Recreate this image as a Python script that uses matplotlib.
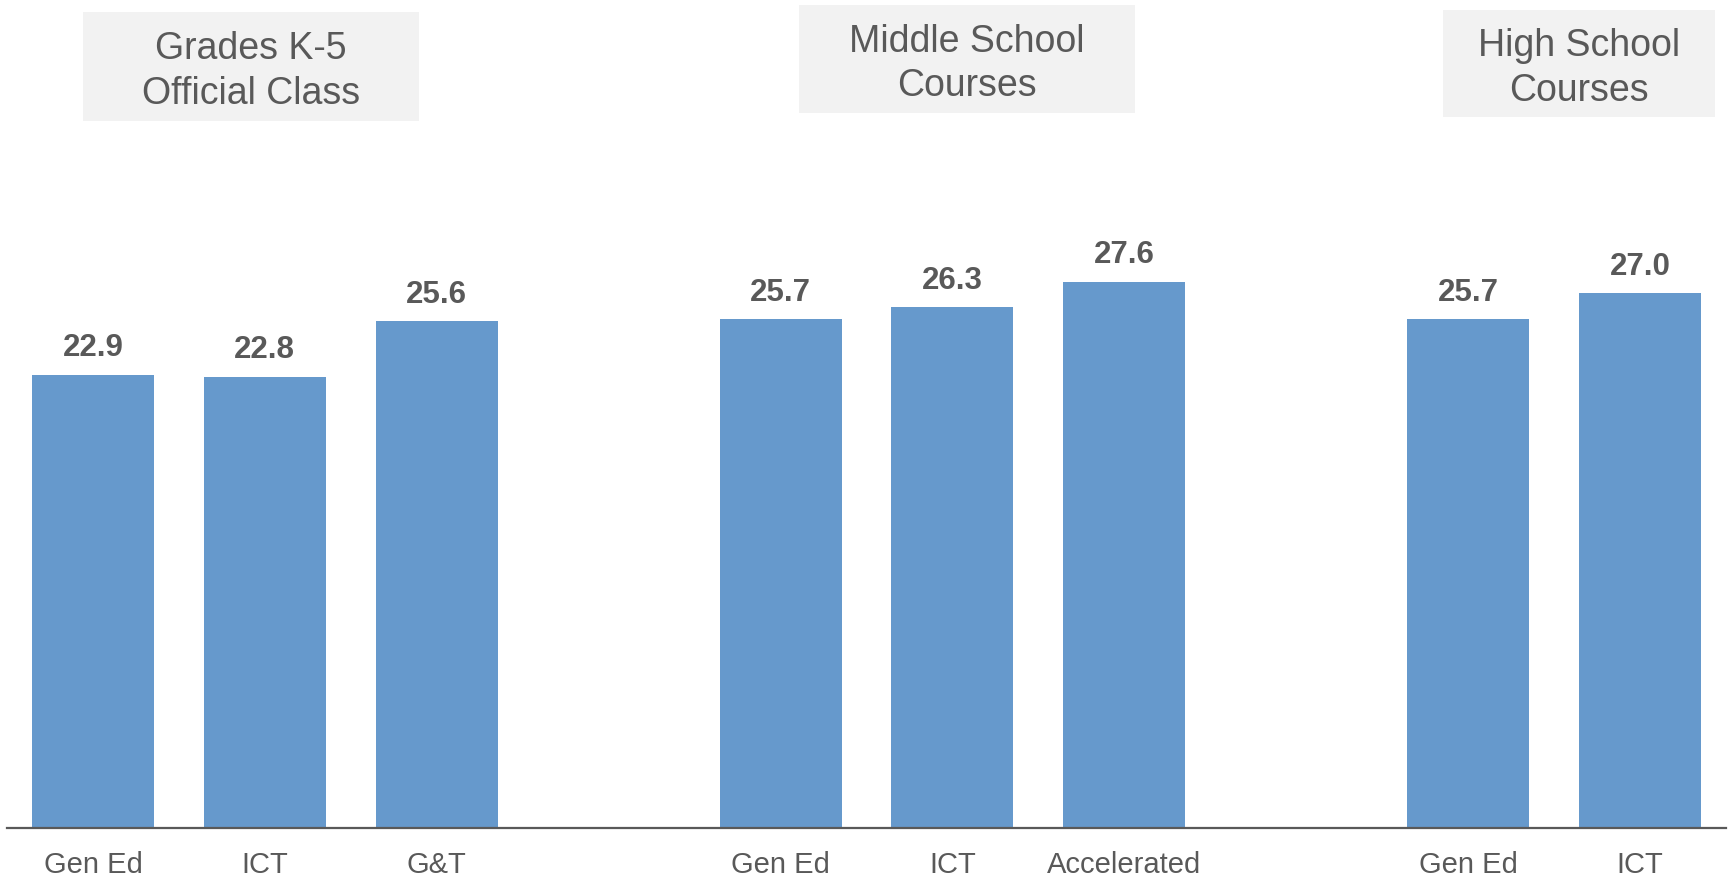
import matplotlib.pyplot as plt
from matplotlib.patches import Rectangle

# data
categories = ["Gen Ed", "ICT", "G&T", "Gen Ed", "ICT", "Accelerated", "Gen Ed", "ICT"]
values = [22.9, 22.8, 25.6, 25.7, 26.3, 27.6, 25.7, 27.0]
slots = [0, 1, 2, 4, 5, 6, 8, 9]  # one empty slot between school levels
groups = ["Grades K-5\nOfficial Class", "Middle School\nCourses", "High School\nCourses"]

BAR = "#6699cc"
GREY = "#595959"
W, H = 1729, 879

plt.rcParams['font.family'] = ['Liberation Sans', 'DejaVu Sans']

fig = plt.figure(figsize=(W / 100, H / 100), dpi=100)
ax = fig.add_axes([7 / W, 1 - 829 / H, (1726 - 7) / W, 792 / H])

bars = ax.bar(slots, values, width=0.71, color=BAR, zorder=2)
for b, v in zip(bars, values):
    ax.annotate(f"{v:.1f}", (b.get_x() + b.get_width() / 2, v),
                xytext=(0, 9), textcoords="offset points",
                ha="center", va="bottom", fontsize=22.5, fontweight="bold", color=GREY)

ax.set_xlim(-0.5, 9.5)
ax.set_ylim(0, 40)
ax.set_xticks(slots)
ax.set_xticklabels(categories, fontsize=21, color=GREY)
ax.tick_params(axis="x", length=0, pad=16)
ax.set_yticks([])
for s in ["top", "left", "right"]:
    ax.spines[s].set_visible(False)
ax.spines["bottom"].set_color(GREY)
ax.spines["bottom"].set_linewidth(1.6)

# header boxes (pixel extents, top-left origin)
boxes = [(83, 13, 419, 122), (799, 6, 1135, 114), (1443, 11, 1715, 118)]
for (x0, y0, x1, y1), label in zip(boxes, groups):
    fig.add_artist(Rectangle((x0 / W, 1 - y1 / H), (x1 - x0) / W, (y1 - y0) / H,
                             transform=fig.transFigure, facecolor="#f2f2f2",
                             edgecolor="none"))
    fig.text((x0 + x1) / 2 / W, 1 - ((y0 + y1) / 2 + 4) / H, label, ha="center", va="center",
             fontsize=27, color=GREY, linespacing=1.3)

fig.savefig("out.png", dpi=100)
